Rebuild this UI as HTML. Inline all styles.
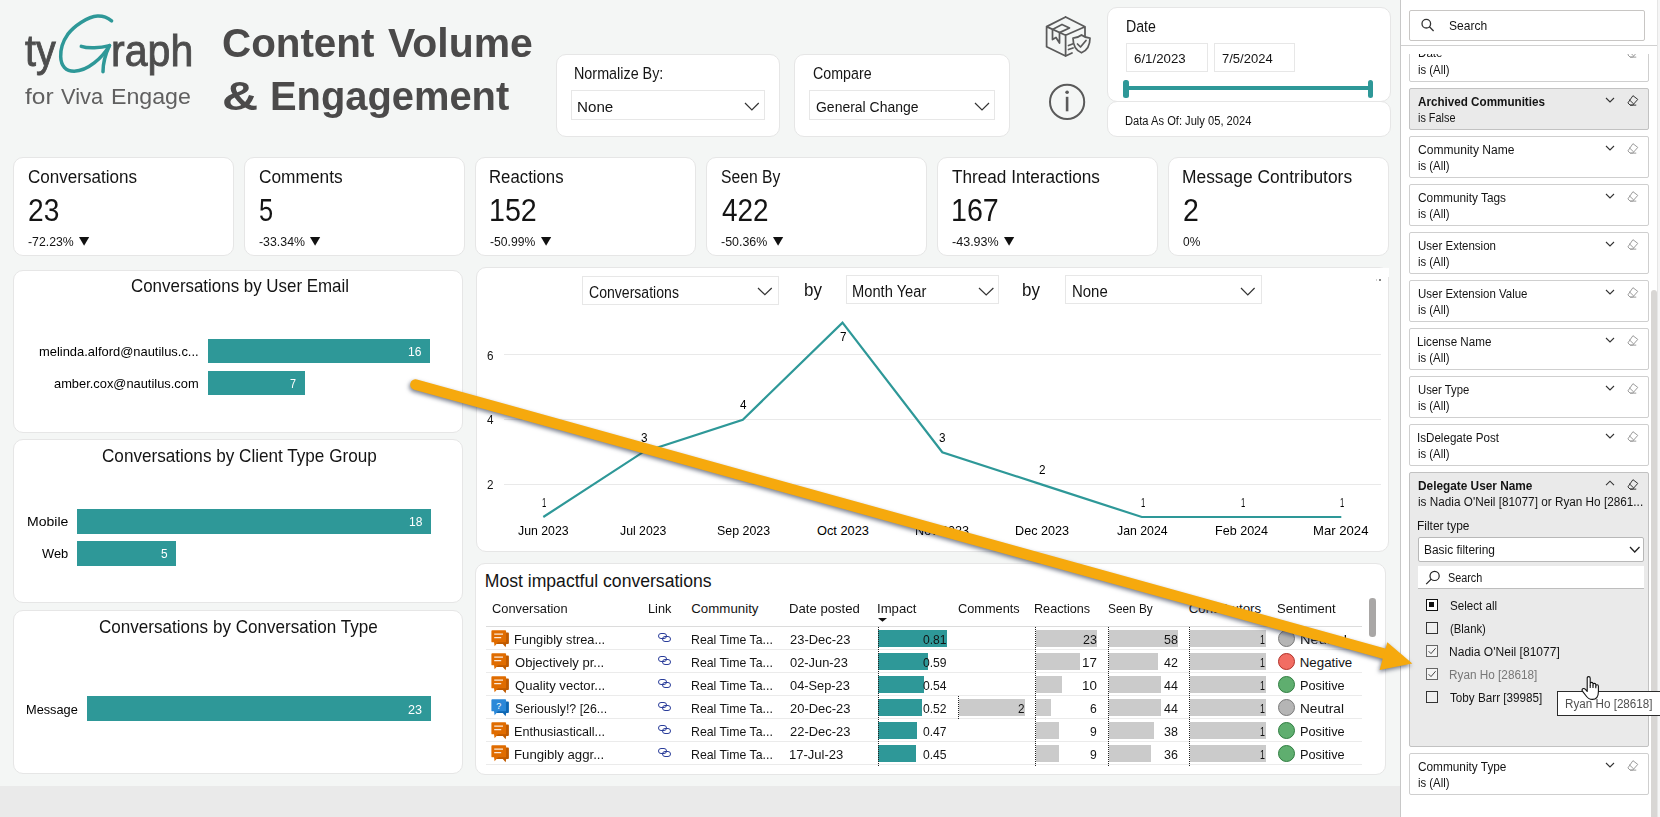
<!DOCTYPE html><html><head><meta charset="utf-8"><title>Content Volume &amp; Engagement</title><style>html,body{margin:0;padding:0}body{width:1660px;height:817px;position:relative;overflow:hidden;background:#f4f6f5;font-family:"Liberation Sans",sans-serif}.t{position:absolute;white-space:nowrap;line-height:1;transform-origin:0 0}</style></head><body>
<div style="position:absolute;left:0;top:786px;width:1400px;height:31px;background:#eaeaea"></div>
<svg style="position:absolute;left:0;top:0" width="220" height="130" viewBox="0 0 220 130" fill="none" stroke="#2e9898" stroke-width="3.5" stroke-linecap="round" stroke-linejoin="round">
<path d="M111.6 20.8 C107.5 17.5 102.5 15.8 97.5 16 C88 16.5 74 26 67.7 34.4 C63 41 60.5 50 60.7 56.6 C61 66 66 71.3 74.2 71.3 C88 71 102 58 109.5 45.6"/>
<path d="M81.3 46.3 C88 48.6 100 48 109.5 45.6 C106 53 103 62 103 71.8"/></svg>
<div style="position:absolute;left:556px;top:54px;width:222.3px;height:81px;background:#fff;border:1px solid #e6e6e6;border-radius:10px;"></div>
<div style="position:absolute;left:571px;top:90px;width:192px;height:28px;background:#fff;border:1px solid #e7e7e7;"></div>
<div style="position:absolute;left:794px;top:54px;width:214.3px;height:81px;background:#fff;border:1px solid #e6e6e6;border-radius:10px;"></div>
<div style="position:absolute;left:809px;top:90px;width:184.3px;height:28px;background:#fff;border:1px solid #e7e7e7;"></div>
<svg style="position:absolute;left:743px;top:100.5px" width="17.75" height="11.0" viewBox="-2 -2 17.75 11.0" fill="none" stroke="#333" stroke-width="1.2"><path d="M0 0 L6.88 7.0 L13.75 0"/></svg>
<svg style="position:absolute;left:973px;top:100.5px" width="18" height="11.0" viewBox="-2 -2 18 11.0" fill="none" stroke="#333" stroke-width="1.2"><path d="M0 0 L7.0 7.0 L14 0"/></svg>
<svg style="position:absolute;left:1040px;top:10px" width="60" height="120" viewBox="1040 10 60 120" fill="none" stroke="#5a5a5a" stroke-width="1.75" stroke-linejoin="round" stroke-linecap="round">
<path d="M1065.6 17 L1085 26.8 L1085 36 M1065.6 56 L1046.6 46.8 L1046.6 26.6 L1065.6 17 M1046.6 26.6 L1065.6 35.2 L1085 26.8 M1065.6 35.2 L1065.6 56 L1072 53"/>
<path d="M1052.5 29.5 L1052.5 39.5 L1056 37.5 L1059.5 43 L1059.5 32.6 M1052.5 29.5 L1062 24.5 L1069.5 28 L1059.5 32.6"/>
<path d="M1068.5 45.5 L1072.5 44 M1068.5 49.5 L1073 48"/>
<path d="M1081.5 35 C1084 37 1087 38 1090 38 C1090 46 1087 50.5 1081.5 52.8 C1076 50.5 1073 46 1073 38 C1076 38 1079 37 1081.5 35 Z" fill="#f4f6f5"/>
<path d="M1077.5 44 L1080.5 47 L1086 40.5"/>
<circle cx="1067.1" cy="101.9" r="17.1" stroke-width="2"/>
<path d="M1067.1 96.8 L1067.1 111.3" stroke-width="2.6" stroke-linecap="butt"/>
<circle cx="1067.1" cy="92.3" r="1.8" fill="#5a5a5a" stroke="none"/>
</svg>
<div style="position:absolute;left:1107px;top:7px;width:282.2px;height:93px;background:#fff;border:1px solid #e6e6e6;border-radius:10px;"></div>
<div style="position:absolute;left:1107px;top:101px;width:282.2px;height:34px;background:#fff;border:1px solid #e6e6e6;border-radius:10px;"></div>
<div style="position:absolute;left:1126px;top:43px;width:79.5px;height:27px;background:#fff;border:1px solid #e7e7e7;"></div>
<div style="position:absolute;left:1214px;top:43px;width:78.5px;height:27px;background:#fff;border:1px solid #e7e7e7;"></div>
<div style="position:absolute;left:1126px;top:86px;width:1244px;height:4px;background:#2e9898;width:244px"></div>
<div style="position:absolute;left:1123px;top:79.5px;width:5.5px;height:18px;border-radius:2.5px;background:#2e9898"></div>
<div style="position:absolute;left:1367.5px;top:79.5px;width:5.5px;height:18px;border-radius:2.5px;background:#2e9898"></div>
<div style="position:absolute;left:13px;top:157px;width:219.2px;height:97px;background:#fff;border:1px solid #e6e6e6;border-radius:10px;"></div>
<svg style="position:absolute;left:79.1px;top:237px" width="11" height="9"><path d="M0 0 L10.2 0 L5.1 8.8 Z" fill="#111"/></svg>
<div style="position:absolute;left:244px;top:157px;width:219.2px;height:97px;background:#fff;border:1px solid #e6e6e6;border-radius:10px;"></div>
<svg style="position:absolute;left:310.35px;top:237px" width="11" height="9"><path d="M0 0 L10.2 0 L5.1 8.8 Z" fill="#111"/></svg>
<div style="position:absolute;left:475px;top:157px;width:219.2px;height:97px;background:#fff;border:1px solid #e6e6e6;border-radius:10px;"></div>
<svg style="position:absolute;left:540.6px;top:237px" width="11" height="9"><path d="M0 0 L10.2 0 L5.1 8.8 Z" fill="#111"/></svg>
<div style="position:absolute;left:706px;top:157px;width:219.2px;height:97px;background:#fff;border:1px solid #e6e6e6;border-radius:10px;"></div>
<svg style="position:absolute;left:772.6px;top:237px" width="11" height="9"><path d="M0 0 L10.2 0 L5.1 8.8 Z" fill="#111"/></svg>
<div style="position:absolute;left:937px;top:157px;width:219.2px;height:97px;background:#fff;border:1px solid #e6e6e6;border-radius:10px;"></div>
<svg style="position:absolute;left:1004.1px;top:237px" width="11" height="9"><path d="M0 0 L10.2 0 L5.1 8.8 Z" fill="#111"/></svg>
<div style="position:absolute;left:1168px;top:157px;width:219.2px;height:97px;background:#fff;border:1px solid #e6e6e6;border-radius:10px;"></div>
<div style="position:absolute;left:13px;top:270px;width:447.7px;height:161px;background:#fff;border:1px solid #e6e6e6;border-radius:10px;"></div>
<div style="position:absolute;left:13px;top:439px;width:447.7px;height:162px;background:#fff;border:1px solid #e6e6e6;border-radius:10px;"></div>
<div style="position:absolute;left:13px;top:610px;width:447.7px;height:162px;background:#fff;border:1px solid #e6e6e6;border-radius:10px;"></div>
<div style="position:absolute;left:208px;top:339.1px;width:221.8px;height:24.2px;background:#2e9898"></div>
<div style="position:absolute;left:208px;top:371.2px;width:96.8px;height:24.1px;background:#2e9898"></div>
<div style="position:absolute;left:77.4px;top:509.2px;width:354.0px;height:24.4px;background:#2e9898"></div>
<div style="position:absolute;left:77.4px;top:541.4px;width:98.6px;height:24.4px;background:#2e9898"></div>
<div style="position:absolute;left:87px;top:696.3px;width:343.9px;height:24.45px;background:#2e9898"></div>
<div style="position:absolute;left:476px;top:267px;width:911.2px;height:283px;background:#fff;border:1px solid #e6e6e6;border-radius:10px;"></div>
<div style="position:absolute;left:582px;top:276px;width:195px;height:27px;background:#fff;border:1px solid #e7e7e7;"></div>
<svg style="position:absolute;left:756.25px;top:286.25px" width="17.75" height="10.75" viewBox="-2 -2 17.75 10.75" fill="none" stroke="#333" stroke-width="1.2"><path d="M0 0 L6.88 6.75 L13.75 0"/></svg>
<div style="position:absolute;left:846px;top:275px;width:151px;height:27px;background:#fff;border:1px solid #e7e7e7;"></div>
<svg style="position:absolute;left:976.8px;top:286px" width="18.4" height="11" viewBox="-2 -2 18.4 11" fill="none" stroke="#333" stroke-width="1.2"><path d="M0 0 L7.2 7 L14.4 0"/></svg>
<div style="position:absolute;left:1065px;top:275px;width:195px;height:27px;background:#fff;border:1px solid #e7e7e7;"></div>
<svg style="position:absolute;left:1239.4px;top:286px" width="17.6" height="11" viewBox="-2 -2 17.6 11" fill="none" stroke="#333" stroke-width="1.2"><path d="M0 0 L6.8 7 L13.6 0"/></svg>
<div style="position:absolute;left:504.25px;top:354.3px;width:877px;height:1px;background:#e9e9e9"></div>
<div style="position:absolute;left:504.25px;top:419.1px;width:877px;height:1px;background:#e9e9e9"></div>
<div style="position:absolute;left:504.25px;top:484.1px;width:877px;height:1px;background:#e9e9e9"></div>
<svg style="position:absolute;left:0;top:0" width="1400" height="560" fill="none" stroke="#2e9898" stroke-width="2.2" stroke-linejoin="miter"><path d="M543.3 517.0 L643.0 452.2 L742.8 419.8 L842.5 322.6 L942.3 452.2 L1042.0 484.6 L1141.8 517.0 L1241.5 517.0 L1341.3 517.0"/></svg>
<div style="position:absolute;left:1376px;top:268px;width:13.2px;height:9px;background:#fff;border-right:0"></div>
<div style="position:absolute;left:1378.7px;top:279px;width:2.6px;height:2.2px;background:#5a5a5a;border-radius:1px"></div><div style="position:absolute;left:1376.2px;top:279px;width:1.2px;height:2.2px;background:#d0d0d0"></div>
<div style="position:absolute;left:475px;top:563px;width:908.5px;height:210px;background:#fff;border:1px solid #e6e6e6;border-radius:10px;"></div>
<svg style="position:absolute;left:878px;top:618px" width="9" height="4"><path d="M0 0 L9 0 L4.5 3.8 Z" fill="#111"/></svg>
<div style="position:absolute;left:486px;top:625.75px;width:876px;height:1px;background:#dcdcdc"></div>
<div style="position:absolute;left:486px;top:648.75px;width:876px;height:1px;background:#ebebeb"></div>
<svg style="position:absolute;left:491px;top:629.5px" width="19" height="18" viewBox="0 0 19 18"><path d="M5 2.5 H17 Q17.9 2.5 17.9 3.4 V13 Q17.9 13.9 17 13.9 H15.2 L14.6 17.2 L11.8 13.9 H5 Z" fill="#bf5a00"/><path d="M1.3 0.3 H14.2 Q15.1 0.3 15.1 1.2 V11.4 Q15.1 12.3 14.2 12.3 H7 L3.6 16.3 L3 12.3 H1.3 Q0.4 12.3 0.4 11.4 V1.2 Q0.4 0.3 1.3 0.3 Z" fill="#e06c00"/><path d="M3.2 4.1 H12 M3.2 7.7 H10.2" stroke="#fff" stroke-width="1.2" fill="none" opacity="0.85"/></svg>
<svg style="position:absolute;left:657px;top:632px" width="15" height="11" viewBox="0 0 15 11" fill="none" stroke="#2a3d9a" stroke-width="1"><rect x="1.5" y="1.5" width="8" height="5" rx="2.5"/><rect x="5.5" y="4.5" width="8" height="5" rx="2.5"/></svg>
<div style="position:absolute;left:877.6px;top:630.0px;width:69.15px;height:17.0px;background:#2e9898"></div>
<div style="position:absolute;left:1036px;top:630.0px;width:61px;height:17.0px;background:#cbcbcb"></div>
<div style="position:absolute;left:1108.5px;top:630.0px;width:69.5px;height:17.0px;background:#cbcbcb"></div>
<div style="position:absolute;left:1189.75px;top:630.0px;width:76.5px;height:17.0px;background:#cbcbcb"></div>
<div style="position:absolute;left:1277.5px;top:629.5px;width:15px;height:15px;border-radius:50%;background:#b5b5b5;border:1px solid #7a7a7a"></div>
<div style="position:absolute;left:486px;top:671.75px;width:876px;height:1px;background:#ebebeb"></div>
<svg style="position:absolute;left:491px;top:652.5px" width="19" height="18" viewBox="0 0 19 18"><path d="M5 2.5 H17 Q17.9 2.5 17.9 3.4 V13 Q17.9 13.9 17 13.9 H15.2 L14.6 17.2 L11.8 13.9 H5 Z" fill="#bf5a00"/><path d="M1.3 0.3 H14.2 Q15.1 0.3 15.1 1.2 V11.4 Q15.1 12.3 14.2 12.3 H7 L3.6 16.3 L3 12.3 H1.3 Q0.4 12.3 0.4 11.4 V1.2 Q0.4 0.3 1.3 0.3 Z" fill="#e06c00"/><path d="M3.2 4.1 H12 M3.2 7.7 H10.2" stroke="#fff" stroke-width="1.2" fill="none" opacity="0.85"/></svg>
<svg style="position:absolute;left:657px;top:655px" width="15" height="11" viewBox="0 0 15 11" fill="none" stroke="#2a3d9a" stroke-width="1"><rect x="1.5" y="1.5" width="8" height="5" rx="2.5"/><rect x="5.5" y="4.5" width="8" height="5" rx="2.5"/></svg>
<div style="position:absolute;left:877.6px;top:653.0px;width:50.4px;height:17.0px;background:#2e9898"></div>
<div style="position:absolute;left:1036px;top:653.0px;width:44px;height:17.0px;background:#cbcbcb"></div>
<div style="position:absolute;left:1108.5px;top:653.0px;width:49.5px;height:17.0px;background:#cbcbcb"></div>
<div style="position:absolute;left:1189.75px;top:653.0px;width:76.5px;height:17.0px;background:#cbcbcb"></div>
<div style="position:absolute;left:1277.5px;top:652.5px;width:15px;height:15px;border-radius:50%;background:#f26d63;border:1px solid #b03028"></div>
<div style="position:absolute;left:486px;top:694.75px;width:876px;height:1px;background:#ebebeb"></div>
<svg style="position:absolute;left:491px;top:675.5px" width="19" height="18" viewBox="0 0 19 18"><path d="M5 2.5 H17 Q17.9 2.5 17.9 3.4 V13 Q17.9 13.9 17 13.9 H15.2 L14.6 17.2 L11.8 13.9 H5 Z" fill="#bf5a00"/><path d="M1.3 0.3 H14.2 Q15.1 0.3 15.1 1.2 V11.4 Q15.1 12.3 14.2 12.3 H7 L3.6 16.3 L3 12.3 H1.3 Q0.4 12.3 0.4 11.4 V1.2 Q0.4 0.3 1.3 0.3 Z" fill="#e06c00"/><path d="M3.2 4.1 H12 M3.2 7.7 H10.2" stroke="#fff" stroke-width="1.2" fill="none" opacity="0.85"/></svg>
<svg style="position:absolute;left:657px;top:678px" width="15" height="11" viewBox="0 0 15 11" fill="none" stroke="#2a3d9a" stroke-width="1"><rect x="1.5" y="1.5" width="8" height="5" rx="2.5"/><rect x="5.5" y="4.5" width="8" height="5" rx="2.5"/></svg>
<div style="position:absolute;left:877.6px;top:676.0px;width:46.15px;height:17.0px;background:#2e9898"></div>
<div style="position:absolute;left:1036px;top:676.0px;width:25.75px;height:17.0px;background:#cbcbcb"></div>
<div style="position:absolute;left:1108.5px;top:676.0px;width:52.75px;height:17.0px;background:#cbcbcb"></div>
<div style="position:absolute;left:1189.75px;top:676.0px;width:76.5px;height:17.0px;background:#cbcbcb"></div>
<div style="position:absolute;left:1277.5px;top:675.5px;width:15px;height:15px;border-radius:50%;background:#5fae6f;border:1px solid #2f7d40"></div>
<div style="position:absolute;left:486px;top:717.75px;width:876px;height:1px;background:#ebebeb"></div>
<svg style="position:absolute;left:491px;top:698.5px" width="19" height="18" viewBox="0 0 19 18"><path d="M5 2.5 H17 Q17.9 2.5 17.9 3.4 V13 Q17.9 13.9 17 13.9 H15.2 L14.6 17.2 L11.8 13.9 H5 Z" fill="#0e67b3"/><path d="M1.3 0.3 H14.2 Q15.1 0.3 15.1 1.2 V11.4 Q15.1 12.3 14.2 12.3 H7 L3.6 16.3 L3 12.3 H1.3 Q0.4 12.3 0.4 11.4 V1.2 Q0.4 0.3 1.3 0.3 Z" fill="#2b88d8"/><text x="7.8" y="9.6" font-family="Liberation Sans" font-size="9" fill="#fff" text-anchor="middle" stroke="none">?</text></svg>
<svg style="position:absolute;left:657px;top:701px" width="15" height="11" viewBox="0 0 15 11" fill="none" stroke="#2a3d9a" stroke-width="1"><rect x="1.5" y="1.5" width="8" height="5" rx="2.5"/><rect x="5.5" y="4.5" width="8" height="5" rx="2.5"/></svg>
<div style="position:absolute;left:877.6px;top:699.0px;width:44.15px;height:17.0px;background:#2e9898"></div>
<div style="position:absolute;left:958.5px;top:699.0px;width:66.0px;height:17.0px;background:#cbcbcb"></div>
<div style="position:absolute;left:1036px;top:699.0px;width:14.75px;height:17.0px;background:#cbcbcb"></div>
<div style="position:absolute;left:1108.5px;top:699.0px;width:52.75px;height:17.0px;background:#cbcbcb"></div>
<div style="position:absolute;left:1189.75px;top:699.0px;width:76.5px;height:17.0px;background:#cbcbcb"></div>
<div style="position:absolute;left:1277.5px;top:698.5px;width:15px;height:15px;border-radius:50%;background:#b5b5b5;border:1px solid #7a7a7a"></div>
<div style="position:absolute;left:486px;top:740.75px;width:876px;height:1px;background:#ebebeb"></div>
<svg style="position:absolute;left:491px;top:721.5px" width="19" height="18" viewBox="0 0 19 18"><path d="M5 2.5 H17 Q17.9 2.5 17.9 3.4 V13 Q17.9 13.9 17 13.9 H15.2 L14.6 17.2 L11.8 13.9 H5 Z" fill="#bf5a00"/><path d="M1.3 0.3 H14.2 Q15.1 0.3 15.1 1.2 V11.4 Q15.1 12.3 14.2 12.3 H7 L3.6 16.3 L3 12.3 H1.3 Q0.4 12.3 0.4 11.4 V1.2 Q0.4 0.3 1.3 0.3 Z" fill="#e06c00"/><path d="M3.2 4.1 H12 M3.2 7.7 H10.2" stroke="#fff" stroke-width="1.2" fill="none" opacity="0.85"/></svg>
<svg style="position:absolute;left:657px;top:724px" width="15" height="11" viewBox="0 0 15 11" fill="none" stroke="#2a3d9a" stroke-width="1"><rect x="1.5" y="1.5" width="8" height="5" rx="2.5"/><rect x="5.5" y="4.5" width="8" height="5" rx="2.5"/></svg>
<div style="position:absolute;left:877.6px;top:722.0px;width:39.4px;height:17.0px;background:#2e9898"></div>
<div style="position:absolute;left:1036px;top:722.0px;width:23.25px;height:17.0px;background:#cbcbcb"></div>
<div style="position:absolute;left:1108.5px;top:722.0px;width:45.25px;height:17.0px;background:#cbcbcb"></div>
<div style="position:absolute;left:1189.75px;top:722.0px;width:76.5px;height:17.0px;background:#cbcbcb"></div>
<div style="position:absolute;left:1277.5px;top:721.5px;width:15px;height:15px;border-radius:50%;background:#5fae6f;border:1px solid #2f7d40"></div>
<div style="position:absolute;left:486px;top:763.75px;width:876px;height:1px;background:#ebebeb"></div>
<svg style="position:absolute;left:491px;top:744.5px" width="19" height="18" viewBox="0 0 19 18"><path d="M5 2.5 H17 Q17.9 2.5 17.9 3.4 V13 Q17.9 13.9 17 13.9 H15.2 L14.6 17.2 L11.8 13.9 H5 Z" fill="#bf5a00"/><path d="M1.3 0.3 H14.2 Q15.1 0.3 15.1 1.2 V11.4 Q15.1 12.3 14.2 12.3 H7 L3.6 16.3 L3 12.3 H1.3 Q0.4 12.3 0.4 11.4 V1.2 Q0.4 0.3 1.3 0.3 Z" fill="#e06c00"/><path d="M3.2 4.1 H12 M3.2 7.7 H10.2" stroke="#fff" stroke-width="1.2" fill="none" opacity="0.85"/></svg>
<svg style="position:absolute;left:657px;top:747px" width="15" height="11" viewBox="0 0 15 11" fill="none" stroke="#2a3d9a" stroke-width="1"><rect x="1.5" y="1.5" width="8" height="5" rx="2.5"/><rect x="5.5" y="4.5" width="8" height="5" rx="2.5"/></svg>
<div style="position:absolute;left:877.6px;top:745.0px;width:38.4px;height:17.0px;background:#2e9898"></div>
<div style="position:absolute;left:1036px;top:745.0px;width:23.25px;height:17.0px;background:#cbcbcb"></div>
<div style="position:absolute;left:1108.5px;top:745.0px;width:42.75px;height:17.0px;background:#cbcbcb"></div>
<div style="position:absolute;left:1189.75px;top:745.0px;width:76.5px;height:17.0px;background:#cbcbcb"></div>
<div style="position:absolute;left:1277.5px;top:744.5px;width:15px;height:15px;border-radius:50%;background:#5fae6f;border:1px solid #2f7d40"></div>
<div style="position:absolute;left:878px;top:627px;width:1px;height:139px;background:repeating-linear-gradient(to bottom,#222 0,#222 1px,transparent 1px,transparent 2px)"></div>
<div style="position:absolute;left:1035px;top:627px;width:1px;height:139px;background:repeating-linear-gradient(to bottom,#222 0,#222 1px,transparent 1px,transparent 2px)"></div>
<div style="position:absolute;left:1108px;top:627px;width:1px;height:139px;background:repeating-linear-gradient(to bottom,#222 0,#222 1px,transparent 1px,transparent 2px)"></div>
<div style="position:absolute;left:1189px;top:627px;width:1px;height:139px;background:repeating-linear-gradient(to bottom,#222 0,#222 1px,transparent 1px,transparent 2px)"></div>
<div style="position:absolute;left:958px;top:696px;width:1px;height:23px;background:repeating-linear-gradient(to bottom,#222 0,#222 1px,transparent 1px,transparent 2px)"></div>
<div style="position:absolute;left:1369.3px;top:598px;width:6.3px;height:38.8px;border-radius:3.2px;background:#a9a7a6"></div>
<div style="position:absolute;left:1400px;top:0;width:260px;height:817px;background:#fff;border-left:1px solid #c8c8c8"></div>
<div style="position:absolute;left:1401px;top:45px;width:256px;height:1px;background:#d0d0d0"></div>
<div style="position:absolute;left:1657px;top:0;width:3px;height:817px;background:#f5f5f5;border-left:1px solid #e6e6e6"></div>
<div style="position:absolute;left:1409px;top:10px;width:234px;height:29px;background:#fff;border:1px solid #c8c6c4;border-radius:2px;"></div>
<svg style="position:absolute;left:1420px;top:17px" width="16" height="16" viewBox="0 0 16 16" fill="none" stroke="#333" stroke-width="1.3"><circle cx="6.3" cy="6.7" r="4.3"/><path d="M9.4 9.8 L13.6 14"/></svg>
<div style="position:absolute;left:1401px;top:54.3px;width:256px;height:30px;overflow:hidden"><div style="position:absolute;left:8px;top:-14px;width:238px;height:40px;border:1px solid #cfcfcf;border-radius:2px"></div><span style="position:absolute;left:17.2px;top:-7px;font-size:12.5px;line-height:1;color:#141414;transform:scaleX(0.93);transform-origin:0 0">Date</span><svg style="position:absolute;left:225.5px;top:-7.3px" width="12" height="11" viewBox="0 0 10.5 10" fill="none" stroke="#9a9a9a" stroke-width="0.9"><path d="M5.2 0.6 L9.6 4 L5 9.2 H2.6 L0.6 7.2 Z M2.6 9.2 H8.2 M1.9 4.3 L5.9 8.2" /></svg></div>
<div style="position:absolute;left:1409px;top:88px;width:238px;height:40px;background:#eaeaea;border:1px solid #c2c2c2;border-radius:2px;"></div>
<svg style="position:absolute;left:1604px;top:96px" width="12" height="10" viewBox="-2 -2 12 10" fill="none" stroke="#333" stroke-width="1.1"><path d="M0 0 L4 4 L8 0"/></svg>
<svg style="position:absolute;left:1626.5px;top:94.5px" width="12" height="11" viewBox="0 0 10.5 10" fill="none" stroke="#333" stroke-width="0.9" stroke-linejoin="round"><path d="M5.2 0.6 L9.6 4 L5 9.2 H2.6 L0.6 7.2 Z M2.6 9.2 H8.2 M1.9 4.3 L5.9 8.2" /></svg>
<div style="position:absolute;left:1409px;top:136px;width:238px;height:40px;background:#fff;border:1px solid #cfcfcf;border-radius:2px;"></div>
<svg style="position:absolute;left:1604px;top:144px" width="12" height="10" viewBox="-2 -2 12 10" fill="none" stroke="#333" stroke-width="1.1"><path d="M0 0 L4 4 L8 0"/></svg>
<svg style="position:absolute;left:1626.5px;top:142.5px" width="12" height="11" viewBox="0 0 10.5 10" fill="none" stroke="#9a9a9a" stroke-width="0.9" stroke-linejoin="round"><path d="M5.2 0.6 L9.6 4 L5 9.2 H2.6 L0.6 7.2 Z M2.6 9.2 H8.2 M1.9 4.3 L5.9 8.2" /></svg>
<div style="position:absolute;left:1409px;top:184px;width:238px;height:40px;background:#fff;border:1px solid #cfcfcf;border-radius:2px;"></div>
<svg style="position:absolute;left:1604px;top:192px" width="12" height="10" viewBox="-2 -2 12 10" fill="none" stroke="#333" stroke-width="1.1"><path d="M0 0 L4 4 L8 0"/></svg>
<svg style="position:absolute;left:1626.5px;top:190.5px" width="12" height="11" viewBox="0 0 10.5 10" fill="none" stroke="#9a9a9a" stroke-width="0.9" stroke-linejoin="round"><path d="M5.2 0.6 L9.6 4 L5 9.2 H2.6 L0.6 7.2 Z M2.6 9.2 H8.2 M1.9 4.3 L5.9 8.2" /></svg>
<div style="position:absolute;left:1409px;top:232px;width:238px;height:40px;background:#fff;border:1px solid #cfcfcf;border-radius:2px;"></div>
<svg style="position:absolute;left:1604px;top:240px" width="12" height="10" viewBox="-2 -2 12 10" fill="none" stroke="#333" stroke-width="1.1"><path d="M0 0 L4 4 L8 0"/></svg>
<svg style="position:absolute;left:1626.5px;top:238.5px" width="12" height="11" viewBox="0 0 10.5 10" fill="none" stroke="#9a9a9a" stroke-width="0.9" stroke-linejoin="round"><path d="M5.2 0.6 L9.6 4 L5 9.2 H2.6 L0.6 7.2 Z M2.6 9.2 H8.2 M1.9 4.3 L5.9 8.2" /></svg>
<div style="position:absolute;left:1409px;top:280px;width:238px;height:40px;background:#fff;border:1px solid #cfcfcf;border-radius:2px;"></div>
<svg style="position:absolute;left:1604px;top:288px" width="12" height="10" viewBox="-2 -2 12 10" fill="none" stroke="#333" stroke-width="1.1"><path d="M0 0 L4 4 L8 0"/></svg>
<svg style="position:absolute;left:1626.5px;top:286.5px" width="12" height="11" viewBox="0 0 10.5 10" fill="none" stroke="#9a9a9a" stroke-width="0.9" stroke-linejoin="round"><path d="M5.2 0.6 L9.6 4 L5 9.2 H2.6 L0.6 7.2 Z M2.6 9.2 H8.2 M1.9 4.3 L5.9 8.2" /></svg>
<div style="position:absolute;left:1409px;top:328px;width:238px;height:40px;background:#fff;border:1px solid #cfcfcf;border-radius:2px;"></div>
<svg style="position:absolute;left:1604px;top:336px" width="12" height="10" viewBox="-2 -2 12 10" fill="none" stroke="#333" stroke-width="1.1"><path d="M0 0 L4 4 L8 0"/></svg>
<svg style="position:absolute;left:1626.5px;top:334.5px" width="12" height="11" viewBox="0 0 10.5 10" fill="none" stroke="#9a9a9a" stroke-width="0.9" stroke-linejoin="round"><path d="M5.2 0.6 L9.6 4 L5 9.2 H2.6 L0.6 7.2 Z M2.6 9.2 H8.2 M1.9 4.3 L5.9 8.2" /></svg>
<div style="position:absolute;left:1409px;top:376px;width:238px;height:40px;background:#fff;border:1px solid #cfcfcf;border-radius:2px;"></div>
<svg style="position:absolute;left:1604px;top:384px" width="12" height="10" viewBox="-2 -2 12 10" fill="none" stroke="#333" stroke-width="1.1"><path d="M0 0 L4 4 L8 0"/></svg>
<svg style="position:absolute;left:1626.5px;top:382.5px" width="12" height="11" viewBox="0 0 10.5 10" fill="none" stroke="#9a9a9a" stroke-width="0.9" stroke-linejoin="round"><path d="M5.2 0.6 L9.6 4 L5 9.2 H2.6 L0.6 7.2 Z M2.6 9.2 H8.2 M1.9 4.3 L5.9 8.2" /></svg>
<div style="position:absolute;left:1409px;top:424px;width:238px;height:40px;background:#fff;border:1px solid #cfcfcf;border-radius:2px;"></div>
<svg style="position:absolute;left:1604px;top:432px" width="12" height="10" viewBox="-2 -2 12 10" fill="none" stroke="#333" stroke-width="1.1"><path d="M0 0 L4 4 L8 0"/></svg>
<svg style="position:absolute;left:1626.5px;top:430.5px" width="12" height="11" viewBox="0 0 10.5 10" fill="none" stroke="#9a9a9a" stroke-width="0.9" stroke-linejoin="round"><path d="M5.2 0.6 L9.6 4 L5 9.2 H2.6 L0.6 7.2 Z M2.6 9.2 H8.2 M1.9 4.3 L5.9 8.2" /></svg>
<div style="position:absolute;left:1409px;top:472px;width:238px;height:273px;background:#eaeaea;border:1px solid #c2c2c2;border-radius:2px;"></div>
<svg style="position:absolute;left:1604px;top:479px" width="12" height="10" viewBox="-2 -2 12 10" fill="none" stroke="#333" stroke-width="1.1"><path d="M0 4.2 L4 0.2 L8 4.2"/></svg>
<svg style="position:absolute;left:1626.5px;top:478.5px" width="12" height="11" viewBox="0 0 10.5 10" fill="none" stroke="#333" stroke-width="0.9" stroke-linejoin="round"><path d="M5.2 0.6 L9.6 4 L5 9.2 H2.6 L0.6 7.2 Z M2.6 9.2 H8.2 M1.9 4.3 L5.9 8.2" /></svg>
<div style="position:absolute;left:1418px;top:537px;width:224px;height:23px;background:#fff;border:1px solid #b8b8b8;border-radius:2px;"></div>
<svg style="position:absolute;left:1627.7px;top:544.9px" width="14" height="10" viewBox="-2 -2 14 10" fill="none" stroke="#222" stroke-width="1.3"><path d="M0 0 L4.75 5 L9.5 0"/></svg>
<div style="position:absolute;left:1418px;top:566px;width:226px;height:22px;background:#fff;border-bottom:1px solid #bdbdbd"></div>
<svg style="position:absolute;left:1425px;top:569.5px" width="16" height="16" viewBox="0 0 16 16" fill="none" stroke="#222" stroke-width="1.2"><circle cx="9.6" cy="5.9" r="4.6"/><path d="M6.2 9.2 L1.2 14.2"/></svg>
<div style="position:absolute;left:1426px;top:599px;width:12px;height:12px;box-sizing:border-box;border:1.5px solid #111;background:#fff"><div style="position:absolute;left:2px;top:2px;width:5px;height:5px;background:#111"></div></div>
<div style="position:absolute;left:1426px;top:622px;width:12px;height:12px;box-sizing:border-box;border:1px solid #333;background:#efefef"></div>
<div style="position:absolute;left:1426px;top:645px;width:12px;height:12px;box-sizing:border-box;border:1px solid #666;background:#f4f4f4"><svg style="position:absolute;left:0;top:0" width="10" height="10" fill="none" stroke="#444" stroke-width="1"><path d="M1.6 5.2 L4 7.6 L8.6 2.2"/></svg></div>
<div style="position:absolute;left:1426px;top:668px;width:12px;height:12px;box-sizing:border-box;border:1px solid #666;background:#f4f4f4"><svg style="position:absolute;left:0;top:0" width="10" height="10" fill="none" stroke="#444" stroke-width="1"><path d="M1.6 5.2 L4 7.6 L8.6 2.2"/></svg></div>
<div style="position:absolute;left:1426px;top:691px;width:12px;height:12px;box-sizing:border-box;border:1px solid #333;background:#efefef"></div>
<div style="position:absolute;left:1409px;top:753px;width:238px;height:40px;background:#fff;border:1px solid #cfcfcf;border-radius:2px;"></div>
<svg style="position:absolute;left:1604px;top:761px" width="12" height="10" viewBox="-2 -2 12 10" fill="none" stroke="#333" stroke-width="1.1"><path d="M0 0 L4 4 L8 0"/></svg>
<svg style="position:absolute;left:1626.5px;top:759.5px" width="12" height="11" viewBox="0 0 10.5 10" fill="none" stroke="#9a9a9a" stroke-width="0.9" stroke-linejoin="round"><path d="M5.2 0.6 L9.6 4 L5 9.2 H2.6 L0.6 7.2 Z M2.6 9.2 H8.2 M1.9 4.3 L5.9 8.2" /></svg>
<div style="position:absolute;left:1651px;top:290px;width:6px;height:540px;border-radius:3px;background:#d8d6d4"></div>
<div style="position:absolute;left:1557px;top:691px;width:110px;height:23px;background:#fff;border:1px solid #2b2b2b"></div>
<span class="t" style="left:24.60px;top:25px;font-size:45px;line-height:51px;color:#4d4d4d;transform:scaleX(0.8788);-webkit-text-stroke:0.9px #4d4d4d;">ty</span>
<span class="t" style="left:110.87px;top:25px;font-size:45px;line-height:51px;color:#4d4d4d;transform:scaleX(0.9135);-webkit-text-stroke:0.9px #4d4d4d;">raph</span>
<span class="t" style="left:24.90px;top:84px;font-size:22px;line-height:25px;color:#606060;transform:scaleX(1.1125);">for</span>
<span class="t" style="left:61.20px;top:84px;font-size:22px;line-height:25px;color:#606060;transform:scaleX(0.9916);">Viva</span>
<span class="t" style="left:111.15px;top:84px;font-size:22px;line-height:25px;color:#606060;transform:scaleX(1.0534);">Engage</span>
<span class="t" style="left:222.33px;top:19px;font-size:41.5px;line-height:47px;color:#4b4a4a;font-weight:bold;transform:scaleX(0.9723);">Content</span>
<span class="t" style="left:388.20px;top:19px;font-size:41.5px;line-height:47px;color:#4b4a4a;font-weight:bold;transform:scaleX(0.9868);">Volume</span>
<span class="t" style="left:222.09px;top:72px;font-size:41.5px;line-height:47px;color:#4b4a4a;font-weight:bold;transform:scaleX(1.2071);">&amp;</span>
<span class="t" style="left:269.58px;top:72px;font-size:41.5px;line-height:47px;color:#4b4a4a;font-weight:bold;transform:scaleX(0.9607);">Engagement</span>
<span class="t" style="left:574.12px;top:64px;font-size:16.3px;line-height:18px;color:#141414;transform:scaleX(0.8817);">Normalize By:</span>
<span class="t" style="left:577.01px;top:98px;font-size:15.3px;line-height:17px;color:#141414;transform:scaleX(0.9911);">None</span>
<span class="t" style="left:812.50px;top:64px;font-size:16.3px;line-height:18px;color:#141414;transform:scaleX(0.8744);">Compare</span>
<span class="t" style="left:816.25px;top:98px;font-size:15.3px;line-height:17px;color:#141414;transform:scaleX(0.9128);">General Change</span>
<span class="t" style="left:1125.53px;top:17px;font-size:16.3px;line-height:18px;color:#141414;transform:scaleX(0.8699);">Date</span>
<span class="t" style="left:1133.80px;top:51px;font-size:13.4px;line-height:15px;color:#141414;transform:scaleX(0.9908);">6/1/2023</span>
<span class="t" style="left:1221.50px;top:51px;font-size:13.4px;line-height:15px;color:#141414;transform:scaleX(0.9720);">7/5/2024</span>
<span class="t" style="left:1125.34px;top:114px;font-size:12.3px;line-height:14px;color:#141414;transform:scaleX(0.9064);">Data As Of: July 05, 2024</span>
<span class="t" style="left:27.50px;top:166px;font-size:18.3px;line-height:21px;color:#141414;transform:scaleX(0.9339);">Conversations</span>
<span class="t" style="left:27.58px;top:193px;font-size:30.5px;line-height:34px;color:#141414;transform:scaleX(0.9230);">23</span>
<span class="t" style="left:28.10px;top:234px;font-size:13.2px;line-height:15px;color:#141414;transform:scaleX(0.9313);">-72.23%</span>
<span class="t" style="left:258.50px;top:166px;font-size:18.3px;line-height:21px;color:#141414;transform:scaleX(0.9463);">Comments</span>
<span class="t" style="left:258.67px;top:193px;font-size:30.5px;line-height:34px;color:#141414;transform:scaleX(0.8333);">5</span>
<span class="t" style="left:259.10px;top:234px;font-size:13.2px;line-height:15px;color:#141414;transform:scaleX(0.9364);">-33.34%</span>
<span class="t" style="left:488.58px;top:166px;font-size:18.3px;line-height:21px;color:#141414;transform:scaleX(0.9170);">Reactions</span>
<span class="t" style="left:488.62px;top:193px;font-size:30.5px;line-height:34px;color:#141414;transform:scaleX(0.9390);">152</span>
<span class="t" style="left:490.10px;top:234px;font-size:13.2px;line-height:15px;color:#141414;transform:scaleX(0.9212);">-50.99%</span>
<span class="t" style="left:720.50px;top:166px;font-size:18.3px;line-height:21px;color:#141414;transform:scaleX(0.8575);">Seen By</span>
<span class="t" style="left:721.50px;top:193px;font-size:30.5px;line-height:34px;color:#141414;transform:scaleX(0.9164);">422</span>
<span class="t" style="left:721.10px;top:234px;font-size:13.2px;line-height:15px;color:#141414;transform:scaleX(0.9414);">-50.36%</span>
<span class="t" style="left:951.50px;top:166px;font-size:18.3px;line-height:21px;color:#141414;transform:scaleX(0.9392);">Thread Interactions</span>
<span class="t" style="left:950.62px;top:193px;font-size:30.5px;line-height:34px;color:#141414;transform:scaleX(0.9390);">167</span>
<span class="t" style="left:952.10px;top:234px;font-size:13.2px;line-height:15px;color:#141414;transform:scaleX(0.9516);">-43.93%</span>
<span class="t" style="left:1181.55px;top:166px;font-size:18.3px;line-height:21px;color:#141414;transform:scaleX(0.9511);">Message Contributors</span>
<span class="t" style="left:1182.57px;top:193px;font-size:30.5px;line-height:34px;color:#141414;transform:scaleX(0.9333);">2</span>
<span class="t" style="left:1183.10px;top:234px;font-size:13.2px;line-height:15px;color:#141414;transform:scaleX(0.9051);">0%</span>
<span class="t" style="left:130.50px;top:275px;font-size:18.6px;line-height:21px;color:#141414;transform:scaleX(0.9094);">Conversations by User Email</span>
<span class="t" style="left:101.50px;top:445px;font-size:18.6px;line-height:21px;color:#141414;transform:scaleX(0.9208);">Conversations by Client Type Group</span>
<span class="t" style="left:99.25px;top:616px;font-size:18.6px;line-height:21px;color:#141414;transform:scaleX(0.9184);">Conversations by Conversation Type</span>
<span class="t" style="left:38.60px;top:344px;font-size:13px;line-height:15px;color:#000;transform:scaleX(0.9938);">melinda.alford@nautilus.c...</span>
<span class="t" style="left:53.80px;top:376px;font-size:13px;line-height:15px;color:#000;transform:scaleX(0.9895);">amber.cox@nautilus.com</span>
<span class="t" style="left:407.60px;top:344px;font-size:13px;line-height:15px;color:#fff;transform:scaleX(0.9276);">16</span>
<span class="t" style="left:289.70px;top:376px;font-size:13px;line-height:15px;color:#fff;transform:scaleX(0.8286);">7</span>
<span class="t" style="left:26.52px;top:514px;font-size:13px;line-height:15px;color:#000;transform:scaleX(1.0792);">Mobile</span>
<span class="t" style="left:41.60px;top:546px;font-size:13px;line-height:15px;color:#000;transform:scaleX(0.9899);">Web</span>
<span class="t" style="left:409.30px;top:514px;font-size:13px;line-height:15px;color:#fff;transform:scaleX(0.9276);">18</span>
<span class="t" style="left:160.80px;top:546px;font-size:13px;line-height:15px;color:#fff;transform:scaleX(0.9143);">5</span>
<span class="t" style="left:25.92px;top:702px;font-size:13px;line-height:15px;color:#000;transform:scaleX(0.9822);">Message</span>
<span class="t" style="left:408.00px;top:702px;font-size:13px;line-height:15px;color:#fff;transform:scaleX(0.9698);">23</span>
<span class="t" style="left:588.75px;top:284px;font-size:15.8px;line-height:17px;color:#141414;transform:scaleX(0.8904);">Conversations</span>
<span class="t" style="left:803.61px;top:279px;font-size:19px;line-height:21px;color:#141414;transform:scaleX(0.8944);">by</span>
<span class="t" style="left:852.07px;top:283px;font-size:15.8px;line-height:17px;color:#141414;transform:scaleX(0.9297);">Month Year</span>
<span class="t" style="left:1022.01px;top:279px;font-size:19px;line-height:21px;color:#141414;transform:scaleX(0.8944);">by</span>
<span class="t" style="left:1071.65px;top:283px;font-size:15.8px;line-height:17px;color:#141414;transform:scaleX(0.9465);">None</span>
<span class="t" style="left:486.75px;top:349px;font-size:12.6px;line-height:14px;color:#141414;transform:scaleX(0.9286);">6</span>
<span class="t" style="left:486.75px;top:413px;font-size:12.6px;line-height:14px;color:#141414;transform:scaleX(0.9286);">4</span>
<span class="t" style="left:486.75px;top:478px;font-size:12.6px;line-height:14px;color:#141414;transform:scaleX(0.9286);">2</span>
<span class="t" style="left:518.35px;top:523px;font-size:12.8px;line-height:15px;color:#000;transform:scaleX(0.9612);">Jun 2023</span>
<span class="t" style="left:620.22px;top:523px;font-size:12.8px;line-height:15px;color:#000;transform:scaleX(0.9583);">Jul 2023</span>
<span class="t" style="left:716.60px;top:523px;font-size:12.8px;line-height:15px;color:#000;transform:scaleX(0.9693);">Sep 2023</span>
<span class="t" style="left:816.97px;top:523px;font-size:12.8px;line-height:15px;color:#000;">Oct 2023</span>
<span class="t" style="left:915.11px;top:523px;font-size:12.8px;line-height:15px;color:#000;transform:scaleX(0.9876);">Nov 2023</span>
<span class="t" style="left:1014.86px;top:523px;font-size:12.8px;line-height:15px;color:#000;transform:scaleX(0.9876);">Dec 2023</span>
<span class="t" style="left:1116.85px;top:523px;font-size:12.8px;line-height:15px;color:#000;transform:scaleX(0.9612);">Jan 2024</span>
<span class="t" style="left:1214.87px;top:523px;font-size:12.8px;line-height:15px;color:#000;transform:scaleX(0.9819);">Feb 2024</span>
<span class="t" style="left:1313.42px;top:523px;font-size:12.8px;line-height:15px;color:#000;transform:scaleX(1.0256);">Mar 2024</span>
<span class="t" style="left:542.40px;top:495px;font-size:12.8px;line-height:15px;color:#000;transform:scaleX(0.6000);">1</span>
<span class="t" style="left:640.70px;top:430px;font-size:12.8px;line-height:15px;color:#000;transform:scaleX(0.9143);">3</span>
<span class="t" style="left:740.40px;top:397px;font-size:12.8px;line-height:15px;color:#000;transform:scaleX(0.9143);">4</span>
<span class="t" style="left:840.10px;top:329px;font-size:12.8px;line-height:15px;color:#000;transform:scaleX(0.9143);">7</span>
<span class="t" style="left:939.30px;top:430px;font-size:12.8px;line-height:15px;color:#000;transform:scaleX(0.9143);">3</span>
<span class="t" style="left:1039.10px;top:462px;font-size:12.8px;line-height:15px;color:#000;transform:scaleX(0.9143);">2</span>
<span class="t" style="left:1140.90px;top:495px;font-size:12.8px;line-height:15px;color:#000;transform:scaleX(0.6000);">1</span>
<span class="t" style="left:1240.70px;top:495px;font-size:12.8px;line-height:15px;color:#000;transform:scaleX(0.6000);">1</span>
<span class="t" style="left:1340.40px;top:495px;font-size:12.8px;line-height:15px;color:#000;transform:scaleX(0.6000);">1</span>
<span class="t" style="left:484.75px;top:571px;font-size:17.6px;line-height:20px;color:#141414;">Most impactful conversations</span>
<span class="t" style="left:491.75px;top:601px;font-size:13.3px;line-height:15px;color:#141414;transform:scaleX(0.9653);">Conversation</span>
<span class="t" style="left:648.29px;top:601px;font-size:13.3px;line-height:15px;color:#141414;transform:scaleX(0.9581);">Link</span>
<span class="t" style="left:691.25px;top:601px;font-size:13.3px;line-height:15px;color:#141414;">Community</span>
<span class="t" style="left:789.01px;top:601px;font-size:13.3px;line-height:15px;color:#141414;transform:scaleX(0.9885);">Date posted</span>
<span class="t" style="left:877.01px;top:601px;font-size:13.3px;line-height:15px;color:#141414;transform:scaleX(0.9883);">Impact</span>
<span class="t" style="left:957.50px;top:601px;font-size:13.3px;line-height:15px;color:#141414;transform:scaleX(0.9592);">Comments</span>
<span class="t" style="left:1034.05px;top:601px;font-size:13.3px;line-height:15px;color:#141414;transform:scaleX(0.9490);">Reactions</span>
<span class="t" style="left:1107.50px;top:601px;font-size:13.3px;line-height:15px;color:#141414;transform:scaleX(0.8890);">Seen By</span>
<span class="t" style="left:1188.75px;top:601px;font-size:13.3px;line-height:15px;color:#141414;">Contributors</span>
<span class="t" style="left:1277.00px;top:601px;font-size:13.3px;line-height:15px;color:#141414;transform:scaleX(0.9788);">Sentiment</span>
<span class="t" style="left:514.04px;top:632px;font-size:13.3px;line-height:15px;color:#141414;transform:scaleX(0.9634);">Fungibly strea...</span>
<span class="t" style="left:690.82px;top:632px;font-size:13.3px;line-height:15px;color:#141414;transform:scaleX(0.9258);">Real Time Ta...</span>
<span class="t" style="left:790.00px;top:632px;font-size:13.3px;line-height:15px;color:#141414;transform:scaleX(0.9726);">23-Dec-23</span>
<span class="t" style="left:922.50px;top:632px;font-size:13.3px;line-height:15px;color:#141414;transform:scaleX(0.9123);">0.81</span>
<span class="t" style="left:1082.75px;top:632px;font-size:13.3px;line-height:15px;color:#141414;transform:scaleX(0.9378);">23</span>
<span class="t" style="left:1163.75px;top:632px;font-size:13.3px;line-height:15px;color:#141414;transform:scaleX(0.9378);">58</span>
<span class="t" style="left:1260.33px;top:632px;font-size:13.3px;line-height:15px;color:#141414;transform:scaleX(0.6667);">1</span>
<span class="t" style="left:1299.65px;top:632px;font-size:13.3px;line-height:15px;color:#141414;transform:scaleX(1.0976);">Neutral</span>
<span class="t" style="left:515.00px;top:655px;font-size:13.3px;line-height:15px;color:#141414;transform:scaleX(0.9811);">Objectively pr...</span>
<span class="t" style="left:690.82px;top:655px;font-size:13.3px;line-height:15px;color:#141414;transform:scaleX(0.9258);">Real Time Ta...</span>
<span class="t" style="left:790.00px;top:655px;font-size:13.3px;line-height:15px;color:#141414;transform:scaleX(0.9667);">02-Jun-23</span>
<span class="t" style="left:922.50px;top:655px;font-size:13.3px;line-height:15px;color:#141414;transform:scaleX(0.9123);">0.59</span>
<span class="t" style="left:1081.74px;top:655px;font-size:13.3px;line-height:15px;color:#141414;transform:scaleX(1.0078);">17</span>
<span class="t" style="left:1163.75px;top:655px;font-size:13.3px;line-height:15px;color:#141414;transform:scaleX(0.9378);">42</span>
<span class="t" style="left:1260.33px;top:655px;font-size:13.3px;line-height:15px;color:#141414;transform:scaleX(0.6667);">1</span>
<span class="t" style="left:1299.75px;top:655px;font-size:13.3px;line-height:15px;color:#141414;">Negative</span>
<span class="t" style="left:515.00px;top:678px;font-size:13.3px;line-height:15px;color:#141414;transform:scaleX(0.9841);">Quality vector...</span>
<span class="t" style="left:690.82px;top:678px;font-size:13.3px;line-height:15px;color:#141414;transform:scaleX(0.9258);">Real Time Ta...</span>
<span class="t" style="left:790.00px;top:678px;font-size:13.3px;line-height:15px;color:#141414;transform:scaleX(0.9643);">04-Sep-23</span>
<span class="t" style="left:922.50px;top:678px;font-size:13.3px;line-height:15px;color:#141414;transform:scaleX(0.9123);">0.54</span>
<span class="t" style="left:1081.74px;top:678px;font-size:13.3px;line-height:15px;color:#141414;transform:scaleX(1.0078);">10</span>
<span class="t" style="left:1163.75px;top:678px;font-size:13.3px;line-height:15px;color:#141414;transform:scaleX(0.9378);">44</span>
<span class="t" style="left:1260.33px;top:678px;font-size:13.3px;line-height:15px;color:#141414;transform:scaleX(0.6667);">1</span>
<span class="t" style="left:1299.79px;top:678px;font-size:13.3px;line-height:15px;color:#141414;transform:scaleX(0.9587);">Positive</span>
<span class="t" style="left:515.00px;top:701px;font-size:13.3px;line-height:15px;color:#141414;transform:scaleX(0.9304);">Seriously!? [26...</span>
<span class="t" style="left:690.82px;top:701px;font-size:13.3px;line-height:15px;color:#141414;transform:scaleX(0.9258);">Real Time Ta...</span>
<span class="t" style="left:790.00px;top:701px;font-size:13.3px;line-height:15px;color:#141414;transform:scaleX(0.9726);">20-Dec-23</span>
<span class="t" style="left:922.50px;top:701px;font-size:13.3px;line-height:15px;color:#141414;transform:scaleX(0.9123);">0.52</span>
<span class="t" style="left:1017.55px;top:701px;font-size:13.3px;line-height:15px;color:#141414;transform:scaleX(0.8857);">2</span>
<span class="t" style="left:1089.85px;top:701px;font-size:13.3px;line-height:15px;color:#141414;transform:scaleX(0.9143);">6</span>
<span class="t" style="left:1163.75px;top:701px;font-size:13.3px;line-height:15px;color:#141414;transform:scaleX(0.9378);">44</span>
<span class="t" style="left:1260.33px;top:701px;font-size:13.3px;line-height:15px;color:#141414;transform:scaleX(0.6667);">1</span>
<span class="t" style="left:1299.72px;top:701px;font-size:13.3px;line-height:15px;color:#141414;transform:scaleX(1.0260);">Neutral</span>
<span class="t" style="left:514.05px;top:724px;font-size:13.3px;line-height:15px;color:#141414;transform:scaleX(0.9483);">Enthusiasticall...</span>
<span class="t" style="left:690.82px;top:724px;font-size:13.3px;line-height:15px;color:#141414;transform:scaleX(0.9258);">Real Time Ta...</span>
<span class="t" style="left:790.00px;top:724px;font-size:13.3px;line-height:15px;color:#141414;transform:scaleX(0.9726);">22-Dec-23</span>
<span class="t" style="left:922.50px;top:724px;font-size:13.3px;line-height:15px;color:#141414;transform:scaleX(0.9123);">0.47</span>
<span class="t" style="left:1089.85px;top:724px;font-size:13.3px;line-height:15px;color:#141414;transform:scaleX(0.9143);">9</span>
<span class="t" style="left:1163.75px;top:724px;font-size:13.3px;line-height:15px;color:#141414;transform:scaleX(0.9378);">38</span>
<span class="t" style="left:1260.33px;top:724px;font-size:13.3px;line-height:15px;color:#141414;transform:scaleX(0.6667);">1</span>
<span class="t" style="left:1299.79px;top:724px;font-size:13.3px;line-height:15px;color:#141414;transform:scaleX(0.9587);">Positive</span>
<span class="t" style="left:514.01px;top:747px;font-size:13.3px;line-height:15px;color:#141414;transform:scaleX(0.9919);">Fungibly aggr...</span>
<span class="t" style="left:690.82px;top:747px;font-size:13.3px;line-height:15px;color:#141414;transform:scaleX(0.9258);">Real Time Ta...</span>
<span class="t" style="left:789.02px;top:747px;font-size:13.3px;line-height:15px;color:#141414;transform:scaleX(0.9808);">17-Jul-23</span>
<span class="t" style="left:922.50px;top:747px;font-size:13.3px;line-height:15px;color:#141414;transform:scaleX(0.9123);">0.45</span>
<span class="t" style="left:1089.85px;top:747px;font-size:13.3px;line-height:15px;color:#141414;transform:scaleX(0.9143);">9</span>
<span class="t" style="left:1163.75px;top:747px;font-size:13.3px;line-height:15px;color:#141414;transform:scaleX(0.9378);">36</span>
<span class="t" style="left:1260.33px;top:747px;font-size:13.3px;line-height:15px;color:#141414;transform:scaleX(0.6667);">1</span>
<span class="t" style="left:1299.79px;top:747px;font-size:13.3px;line-height:15px;color:#141414;transform:scaleX(0.9587);">Positive</span>
<span class="t" style="left:1449.30px;top:18px;font-size:12.9px;line-height:15px;color:#141414;transform:scaleX(0.9343);">Search</span>
<span class="t" style="left:1418.20px;top:63px;font-size:12.5px;line-height:14px;color:#141414;transform:scaleX(0.9058);">is (All)</span>
<span class="t" style="left:1418.20px;top:95px;font-size:12.5px;line-height:14px;color:#141414;font-weight:bold;transform:scaleX(0.9325);">Archived Communities</span>
<span class="t" style="left:1418.20px;top:111px;font-size:12.5px;line-height:14px;color:#141414;transform:scaleX(0.8698);">is False</span>
<span class="t" style="left:1418.20px;top:143px;font-size:12.5px;line-height:14px;color:#141414;transform:scaleX(0.9643);">Community Name</span>
<span class="t" style="left:1418.20px;top:159px;font-size:12.5px;line-height:14px;color:#141414;transform:scaleX(0.9058);">is (All)</span>
<span class="t" style="left:1418.20px;top:191px;font-size:12.5px;line-height:14px;color:#141414;transform:scaleX(0.9479);">Community Tags</span>
<span class="t" style="left:1418.20px;top:207px;font-size:12.5px;line-height:14px;color:#141414;transform:scaleX(0.9058);">is (All)</span>
<span class="t" style="left:1418.20px;top:239px;font-size:12.5px;line-height:14px;color:#141414;transform:scaleX(0.9197);">User Extension</span>
<span class="t" style="left:1418.20px;top:255px;font-size:12.5px;line-height:14px;color:#141414;transform:scaleX(0.9058);">is (All)</span>
<span class="t" style="left:1418.20px;top:287px;font-size:12.5px;line-height:14px;color:#141414;transform:scaleX(0.9177);">User Extension Value</span>
<span class="t" style="left:1418.20px;top:303px;font-size:12.5px;line-height:14px;color:#141414;transform:scaleX(0.9058);">is (All)</span>
<span class="t" style="left:1417.27px;top:335px;font-size:12.5px;line-height:14px;color:#141414;transform:scaleX(0.9310);">License Name</span>
<span class="t" style="left:1418.20px;top:351px;font-size:12.5px;line-height:14px;color:#141414;transform:scaleX(0.9058);">is (All)</span>
<span class="t" style="left:1418.20px;top:383px;font-size:12.5px;line-height:14px;color:#141414;transform:scaleX(0.9033);">User Type</span>
<span class="t" style="left:1418.20px;top:399px;font-size:12.5px;line-height:14px;color:#141414;transform:scaleX(0.9058);">is (All)</span>
<span class="t" style="left:1417.27px;top:431px;font-size:12.5px;line-height:14px;color:#141414;transform:scaleX(0.9285);">IsDelegate Post</span>
<span class="t" style="left:1418.20px;top:447px;font-size:12.5px;line-height:14px;color:#141414;transform:scaleX(0.9058);">is (All)</span>
<span class="t" style="left:1418.20px;top:479px;font-size:12.5px;line-height:14px;color:#141414;font-weight:bold;transform:scaleX(0.9467);">Delegate User Name</span>
<span class="t" style="left:1418.20px;top:495px;font-size:12.5px;line-height:14px;color:#141414;transform:scaleX(0.9408);">is Nadia O&#x27;Neil [81077] or Ryan Ho [2861...</span>
<span class="t" style="left:1417.24px;top:519px;font-size:12.5px;line-height:14px;color:#141414;transform:scaleX(0.9550);">Filter type</span>
<span class="t" style="left:1424.35px;top:543px;font-size:12.5px;line-height:14px;color:#141414;transform:scaleX(0.9539);">Basic filtering</span>
<span class="t" style="left:1448.20px;top:571px;font-size:12.5px;line-height:14px;color:#141414;transform:scaleX(0.8650);">Search</span>
<span class="t" style="left:1450.00px;top:599px;font-size:12.5px;line-height:14px;color:#141414;transform:scaleX(0.9291);">Select all</span>
<span class="t" style="left:1450.00px;top:622px;font-size:12.5px;line-height:14px;color:#141414;transform:scaleX(0.9054);">(Blank)</span>
<span class="t" style="left:1449.04px;top:645px;font-size:12.5px;line-height:14px;color:#141414;transform:scaleX(0.9640);">Nadia O&#x27;Neil [81077]</span>
<span class="t" style="left:1449.06px;top:668px;font-size:12.5px;line-height:14px;color:#777;transform:scaleX(0.9422);">Ryan Ho [28618]</span>
<span class="t" style="left:1450.00px;top:691px;font-size:12.5px;line-height:14px;color:#141414;transform:scaleX(0.9359);">Toby Barr [39985]</span>
<span class="t" style="left:1418.20px;top:760px;font-size:12.5px;line-height:14px;color:#141414;transform:scaleX(0.9453);">Community Type</span>
<span class="t" style="left:1418.20px;top:776px;font-size:12.5px;line-height:14px;color:#141414;transform:scaleX(0.9058);">is (All)</span>
<span class="t" style="left:1564.87px;top:697px;font-size:12.5px;line-height:14px;color:#505050;transform:scaleX(0.9335);">Ryan Ho [28618]</span>
<svg style="position:absolute;left:0;top:0;filter:drop-shadow(-0.5px 2.5px 2.2px rgba(35,45,70,0.62))" width="1660" height="817" viewBox="0 0 1660 817">
<path d="M415.5 384.6 L1383 653.4" stroke="#f6a90d" stroke-width="10.6" stroke-linecap="round" fill="none"/>
<path d="M1387.3 642.2 L1412.3 663.4 L1379.6 670.1 Z" fill="#f6a90d"/></svg>
<svg style="position:absolute;left:1580px;top:675px" width="22" height="26" viewBox="0 0 22 26" fill="#fff" stroke="#111" stroke-width="1.1" stroke-linejoin="round">
<path d="M7.2 14.5 V3.2 Q7.2 1.6 8.7 1.6 Q10.2 1.6 10.2 3.2 V10 V8.6 Q10.2 7.4 11.6 7.4 Q13 7.4 13 8.8 V10.6 V9.6 Q13 8.4 14.4 8.4 Q15.8 8.4 15.8 9.8 V11.4 V10.8 Q15.8 9.8 17.1 9.8 Q18.4 9.8 18.4 11.2 V16.5 Q18.4 24.4 12.4 24.4 Q8.6 24.4 6.2 21 L2.6 16.4 Q1.4 14.8 2.8 13.8 Q4.2 13 5.4 14.4 L7.2 16.4 Z"/>
<path d="M10.2 10 V13 M13 10.6 V13 M15.8 11.4 V13.2" fill="none"/></svg>
</body></html>
